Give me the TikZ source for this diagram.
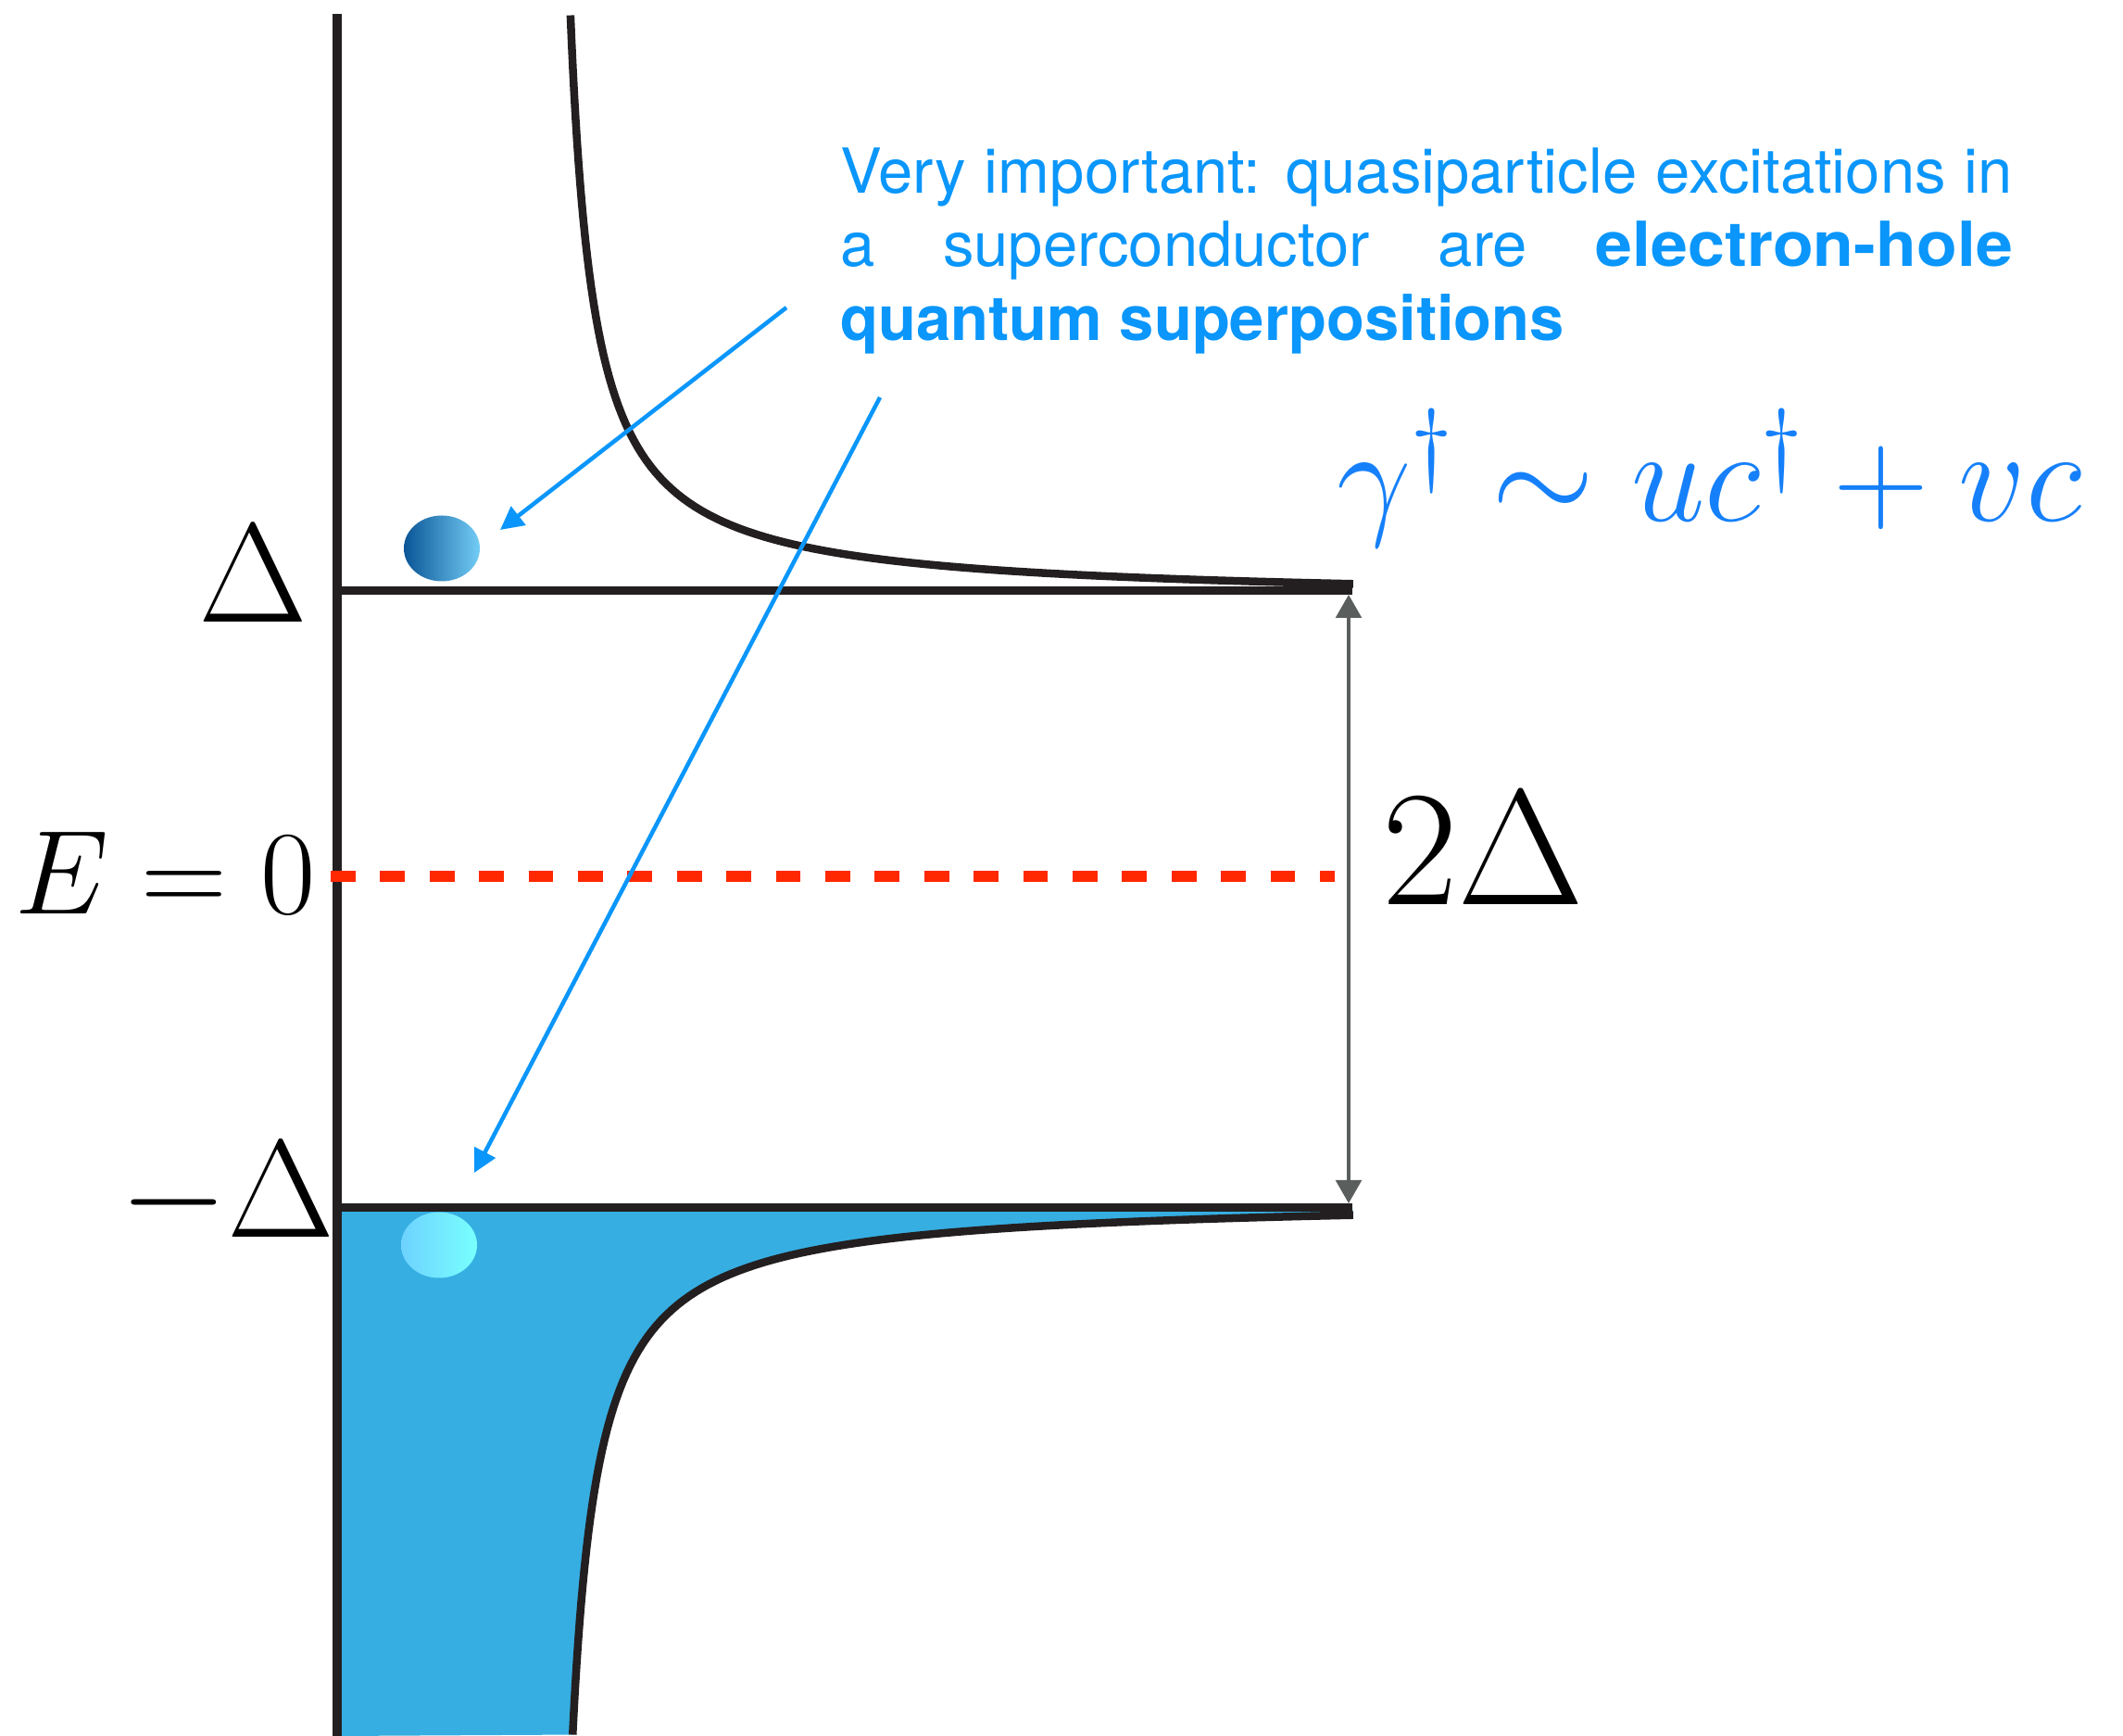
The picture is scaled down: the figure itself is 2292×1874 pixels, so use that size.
\RequirePackage{fix-cm}
\documentclass[tikz,border=0pt]{standalone}
\usepackage{fontspec}
\setsansfont{TeX Gyre Heros}
\usetikzlibrary{arrows.meta,shapes.geometric}
\definecolor{txtblue}{RGB}{10,150,250}
\definecolor{mathblue}{RGB}{22,128,250}
\definecolor{fillblue}{RGB}{54,174,226}
\definecolor{inkc}{RGB}{35,31,32}
\definecolor{dashred}{RGB}{255,40,0}
\definecolor{arrgray}{RGB}{90,94,93}
\definecolor{blobA}{RGB}{10,85,150}
\definecolor{blobB}{RGB}{115,205,245}
\definecolor{blobC}{RGB}{110,210,255}
\definecolor{blobD}{RGB}{120,255,255}
\begin{document}
\begin{tikzpicture}[x=0.2pt,y=-0.2pt,
  axisline/.style={draw=inkc,line width=1.9pt},
  levelline/.style={draw=inkc,line width=1.8pt},
  doscurve/.style={draw=inkc,line width=1.7pt},
  zeroline/.style={draw=dashred,line width=2.4pt,dash pattern=on 5.34pt off 5.34pt},
  gaparrow/.style={draw=arrgray,line width=0.8pt,{Triangle[length=5pt,width=5.5pt]}-{Triangle[length=5pt,width=5.5pt]}},
  pointer/.style={draw=txtblue,line width=0.9pt,-{Triangle[length=5pt,width=5pt]}},
  blob/.style={ellipse,minimum width=16.4pt,minimum height=14.2pt,inner sep=0pt},
  lbl/.style={inner sep=0pt,outer sep=0pt},
  txt/.style={inner sep=0pt,outer sep=0pt,text=txtblue,font=\sffamily\fontsize{13.4}{16}\selectfont}
]
\useasboundingbox (0,0) rectangle (2292,1874);
% filled lower band
\fill[fillblue] (364,1304) -- (1460,1304) -- plot[domain=0:1,samples=90,variable=\u] ({590+163.71/(0.077*exp(4.304*\u)+0.111)},{1304+7.7*exp(4.304*\u)}) -- (364,1874) -- cycle;
% blobs
\node[blob,left color=blobA,right color=blobB] (b1) at (477,592) {};
\node[blob,left color=blobC,right color=blobD] (b2) at (474,1344) {};
% axis and gap edges
\draw[axisline] (364,15) -- (364,1874);
\draw[levelline] (360,638) -- (1460,638);
\draw[levelline] (360,1304) -- (1460,1304);
% density of states curves
\draw[doscurve] plot[domain=0:1,samples=90,variable=\u] ({590+163.71/(0.077*exp(4.393*\u)+0.111)},{638-7.7*exp(4.393*\u)});
\draw[doscurve] plot[domain=0:1,samples=90,variable=\u] ({590+163.71/(0.077*exp(4.304*\u)+0.111)},{1304+7.7*exp(4.304*\u)});
% E = 0 dashed line
\coordinate (z1) at (357,946);
\coordinate (z2) at (1441,946);
\draw[zeroline] (z1) -- (z2);
% 2 Delta arrow
\coordinate (ga) at (1456,642);
\coordinate (gb) at (1456,1299);
\draw[gaparrow] (ga) -- (gb);
% labels
\node[lbl,anchor=base west] (lD) at (214,672) {\fontsize{30.5}{36}\selectfont$\Delta$};
\node[lbl,anchor=base west] (lE) at (16,987) {\fontsize{25.8}{31}\selectfont$E=0$};
\node[lbl,anchor=base west] (lmD) at (129,1336) {\fontsize{30}{36}\selectfont$-\Delta$};
\node[lbl,anchor=base west] (l2D) at (1492,977) {\fontsize{35.5}{42}\selectfont$2\Delta$};
\node[lbl,anchor=base west,text=mathblue] (gam) at (1443,563) {\fontsize{28.6}{34}\selectfont$\gamma^\dagger\sim uc^\dagger+vc$};
% explanatory text
\node[txt,anchor=base west] (t1) at (907,209) {\makebox[253.2pt][s]{Very important: quasiparticle excitations in}};
\node[txt,anchor=base west] (t2) at (907,288) {\makebox[253.2pt][s]{a superconductor are \scalebox{1.07}[1]{\textbf{electron-hole}}}};
\node[txt,anchor=base west] (t3) at (907,368) {\textbf{quantum superpositions}};
% pointers
\coordinate (p1s) at (849,332);
\coordinate (p1e) at (540,572);
\coordinate (p2s) at (950,429);
\coordinate (p2e) at (512,1266);
\draw[pointer] (p1s) -- (p1e);
\draw[pointer] (p2s) -- (p2e);
\end{tikzpicture}
\end{document}
